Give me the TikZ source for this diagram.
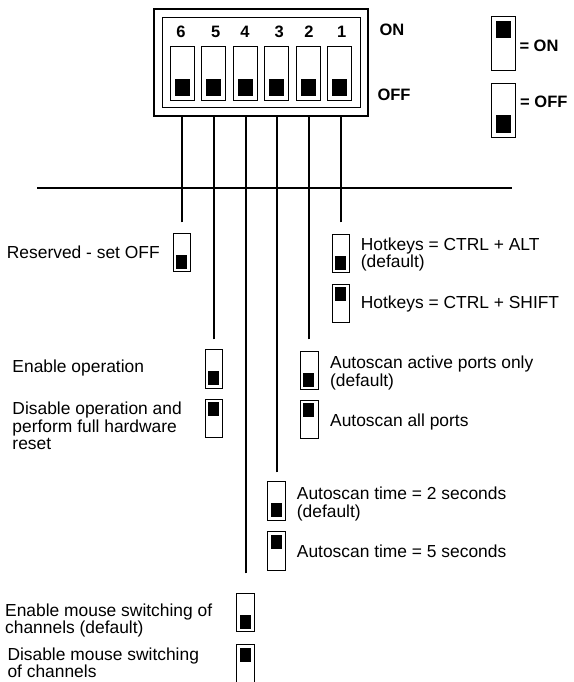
\documentclass[tikz,border=0pt]{standalone}
\usepackage{fontspec}
\setmainfont{Liberation Sans}
\usepackage{tikz}
\begin{document}
\begin{tikzpicture}[x=1pt,y=-1pt,line join=miter,
  lbl/.style={anchor=west,inner sep=0pt,align=left,font=\fontsize{17.4}{17.4}\selectfont},
  hdr/.style={anchor=west,inner sep=0pt,font=\fontsize{16.5}{18}\selectfont\bfseries},
  num/.style={inner sep=0pt,font=\fontsize{16.5}{18}\selectfont\bfseries},
  pin/.style={line width=2pt},
  sw/.style={draw,line width=.8pt,inner sep=0pt},
  bigsw/.style={sw,minimum width=24pt,minimum height=54pt},
  smallsw/.style={sw,minimum width=17.5pt,minimum height=38.5pt},
  bigoff/.style={bigsw,path picture={\fill ([shift={(4.5pt,4.5pt)}]path picture bounding box.south west) rectangle ++(15pt,17pt);}},
  bigon/.style={bigsw,path picture={\fill ([shift={(4.5pt,-4.5pt)}]path picture bounding box.north west) rectangle ++(15pt,-17pt);}},
  smalloff/.style={smallsw,path picture={\fill ([shift={(3pt,3pt)}]path picture bounding box.south west) rectangle ++(11pt,14pt);}},
  smallon/.style={smallsw,path picture={\fill ([shift={(3pt,-3pt)}]path picture bounding box.north west) rectangle ++(11pt,-14pt);}}]
\useasboundingbox (0,0) rectangle (573,682);
\clip (0,0) rectangle (573,682);

% DIP switch block, all six levers OFF
\node[draw,line width=2pt,minimum width=214pt,minimum height=107pt,inner sep=0pt] (dip) at (261.3,62.8) {};
\node[draw,line width=.8pt,minimum width=198.4pt,minimum height=90pt,inner sep=0pt] (dipin) at (261.5,62.3) {};
\foreach \n/\x/\lx in {6/182/181,5/213.7/215.7,4/245.3/245,3/276.3/279.3,2/308/309,1/339.7/341.7} {
  \node[bigoff] (slot\n) at (\x,73.7) {};
  \node[num] (num\n) at (\lx,31.7) {\n};
}
\node[hdr] (onlbl) at (379.3,30) {ON};
\node[hdr] (offlbl) at (377.3,95) {OFF};

% legend
\node[bigon] (legon) at (503,43.3) {};
\node[hdr] (legonlbl) at (519.3,45.7) {= ON};
\node[bigoff] (legoff) at (503.2,110) {};
\node[hdr] (legofflbl) at (520,101.7) {= OFF};

\draw[pin] (37.3,188.3) -- (512,188.3);

% setting icons, two per lever (lever 6 has one)
\node[smalloff] (s6) at (182,252.5) {};
\node[smalloff] (s5a) at (213.7,369) {};
\node[smallon] (s5b) at (213.7,418.5) {};
\node[smalloff] (s4a) at (245.5,612.5) {};
\node[smallon] (s4b) at (245.5,664) {};
\node[smalloff] (s3a) at (276.6,501) {};
\node[smallon] (s3b) at (276.6,551) {};
\node[smalloff] (s2a) at (309.2,370.5) {};
\node[smallon] (s2b) at (309.2,419.5) {};
\node[smalloff] (s1a) at (341,253.5) {};
\node[smallon] (s1b) at (341,303.5) {};

\foreach \sw/\gap in {s6/10.5,s5a/10,s4a/19.5,s3a/9,s2a/11.5,s1a/11.5}
  \draw[pin] ([yshift=\gap pt]\sw.north) -- (\sw.north |- dip.south);

\node[lbl] (t6) at (6.7,252.3) {Reserved - set OFF};
\node[lbl] (t5a) at (12.3,367.7) {Enable operation};
\node[lbl] (t5b) at (12.3,426) {Disable operation and\\perform full hardware\\reset};
\node[lbl] (t1a) at (360.7,254.5) {Hotkeys = CTRL + ALT\\(default)};
\node[lbl] (t1b) at (360.7,304.3) {Hotkeys = CTRL + SHIFT};
\node[lbl] (t2a) at (330,373) {Autoscan active ports only\\(default)};
\node[lbl] (t2b) at (330,421.7) {Autoscan all ports};
\node[lbl] (t3a) at (296.7,504) {Autoscan time = 2 seconds\\(default)};
\node[lbl] (t3b) at (296.7,551.7) {Autoscan time = 5 seconds};
\node[lbl] (t4a) at (5,620.3) {Enable mouse switching of\\channels (default)};
\node[lbl] (t4b) at (7.3,662.5) {Disable mouse switching\\of channels};
\end{tikzpicture}
\end{document}
